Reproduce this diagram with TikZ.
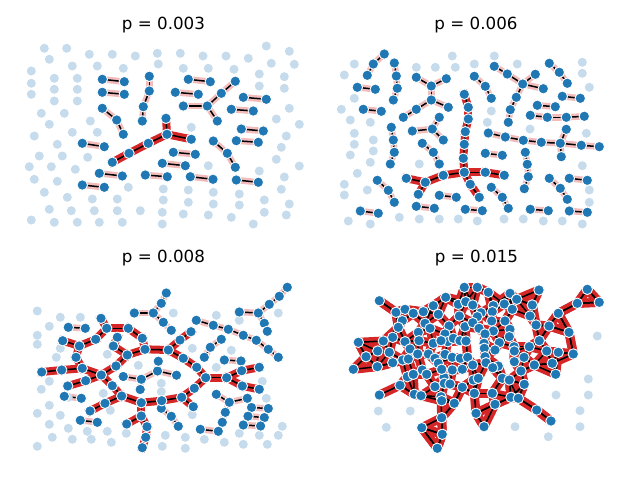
\documentclass[tikz,border=0pt]{standalone}
\usepackage{fontspec}
\setmainfont{DejaVu Sans}
\definecolor{tblue}{RGB}{31,119,180}
\definecolor{lblue}{RGB}{198,219,236}
\definecolor{tred}{RGB}{214,39,40}
\definecolor{tpink}{RGB}{243,188,188}
\pgfdeclarelayer{paper}\pgfdeclarelayer{edgebg}\pgfdeclarelayer{edgefg}\pgfsetlayers{paper,edgebg,edgefg,main}
\tikzset{
  dn/.style={circle,fill=tblue,draw=white,line width=0.9pt,minimum size=10.5pt,inner sep=0pt},
  ln/.style={circle,fill=lblue,minimum size=9pt,inner sep=0pt},
  gE/.style={draw=tred,line width=8pt,line cap=rect},
  gF/.style={draw=tred,line width=9pt,line cap=round},
  sE/.style={draw=tpink,line width=6.5pt,line cap=rect},
  kE/.style={draw=black,line width=1.5pt},
  ttl/.style={font=\fontsize{16.7}{20}\selectfont,anchor=base,inner sep=0pt}
}
\newcommand\drawedges[3]{%
  \begin{pgfonlayer}{edgebg}
  \foreach \pa/\pb in #2 {\draw[#3] (#1\pa.center) -- (#1\pb.center);}
  \end{pgfonlayer}
  \begin{pgfonlayer}{edgefg}
  \foreach \pa/\pb in #2 {\draw[kE] (#1\pa.center) -- (#1\pb.center);}
  \end{pgfonlayer}}
\newcommand\lightnodes[2]{\foreach \px/\py [count=\k] in {#2} {\node[ln] (#1\k) at (\px,\py) {};}}
\newcommand\darknodes[2]{\foreach \nn/\px/\py in {#2} {\node[dn] (#1\nn) at (\px,\py) {};}}
\newcommand\addqedge[2]{\xdef\QE{\QE,#1/#2}}

% ---------- panel 1 ----------
\def\EsA{a1/a2,b1/b2,c1/c2,c2/c3,c3/c4,d1/d2,d2/d3,e1/e2,f1/f2,g1/g2,h1/h2,i1/i2,j1/j2,j1/j3,j3/j4,j1/j5,k1/k2,l1/l2,m1/m2,n1/n2,o1/o2,o2/o3,q1/q2,r1/r2,s1/s2,t1/t2,u1/u2}
\def\EgA{G1/G2,G1/G3,G1/G4,G4/G5,G5/G6}
% ---------- panel 2 ----------
\def\EsB{a1/a2,a2/a3,b1/b2,b2/b3,b3/b4,c1/c2,d1/d2,e1/e2,e2/e3,e2/e4,e4/e5,e4/e6,e6/e7,f1/f2,f2/f3,f3/f4,g1/g2,g1/g3,g1/g4,h1/h2,h2/h3,i1/i2,i2/i3,j1/j2,k1/k2,l1/l2,m1/m2,n1/n2,o1/o2,o2/o3,p1/p2,q1/q2,q2/q3,q3/q4,r1/r2,r2/r3,s1/s2,t1/t2,u1/u2,u2/u3,u3/u4,u4/u5,u5/u8,u8/u9,u5/u6,u5/u7,v1/v2,v2/v3,v3/v4,v3/v5,v3/v6,v6/v7,v7/v8,w1/w2,w2/w3,x1/x2,x2/x3,y1/y2,z1/z2,A1/A2,A2/A3,A3/A4}
\def\EgB{G1/G2,G2/G3,G3/G4,G4/G5,G5/G6,G6/G7,G7/G8,G8/G9,G7/G10,G10/G11,G11/G12,G11/G13,G7/G14,G14/G15}
% ---------- panel 3 ----------
\def\EsC{a1/a2,a2/a3,a3/a4,a3/a5,a5/a6,b1/b2,b2/b3,b3/b4,b4/b5,b4/b6,b6/b7,c1/c2,c2/c3,c3/c4,c4/c5,c5/c6,c6/c7,d1/d2,d2/d3,e1/e2,f1/f2,g1/g2,g2/g3,g3/g4,g3/g5,g2/g6,h1/h2,i1/i2,j1/j2,j2/j3,k1/k2,k2/k3,k2/k4,k4/k5,l1/l2,m1/m2,m3/m4,m5/m6}
\def\EgC{GG/GH,GH/GF,GF/GB,GA/GB,GB/GC,GC/GE,GE/GJ,GD/GI,GI/GK,GK/GJ,GK/GM,GM/GQ,GH/GL,GL/GP,GN/GO,GO/GP,GP/GQ,GQ/GR,GR/GS,GQ/GT,GT/GU,GU/GV,GV/GW,GU/GX,GX/GY,GY/R13,R13/R14,R13/R12,R12/R6,GX/GZ,GZ/GAA,GZ/GAB,GAB/GAC,GAC/GAD,GJ/R1,R1/R2,R2/R3,R1/R4,R4/R5,R5/R6,R6/R7,R7/R8,R8/R9,R7/R10,R10/R11}
% ---------- panel 4 ----------
\def\PQ{1/379.3/300.7,2/396/312.3,3/405/309.3,4/413.3/313.3,5/423.3/311.7,6/433.3/305.7,7/445.7/297.3,8/464.3/287.3,9/458.3/304.3,10/465.7/301.7,11/472.7/305,12/438.3/314.3,13/402.3/320.7,14/398.3/327.3,15/425/323.3,16/430/328.3,17/449/326,18/459.3/316,19/465/326.7,20/418.3/332.3,21/419/340.7,22/392.7/337.3,23/405/341.7,24/445/334,26/447.7/341.7,27/453.3/338.3,28/460/340.7,29/466/341,30/433.3/343.3,31/358.3/342.3,32/383.3/341,33/377.7/351,34/389.3/352.3,35/366/356.7,36/410/349,37/417.7/354,38/428.3/354,40/441/340.7,41/445/354.3,42/452.3/357.3,43/460.3/358.3,44/467.7/357.3,45/435/358.3,46/438.3/363.3,47/353.3/369.3,48/377.3/366.7,49/392.7/362.7,50/402.7/360,51/408.3/359,52/422.3/370,53/426.7/374.3,54/444/377.3,55/441.7/369.3,56/452.3/370,57/462.3/369.3,58/473.3/380,59/407.3/376.7,60/413.3/374.3,61/379.3/395,62/400/385.3,63/414.3/394.3,64/421/395.7,65/435/386.7,66/444.3/383.3,67/450/384,68/462.3/387.3,69/441/396.7,70/441.7/400.7,71/454.3/403.3,72/476/413.3,73/441.7/417.7,74/421.7/427.7,75/442.3/434.3,76/437.3/448.3,77/477.3/287.3,78/488.3/292.3,79/510/293.3,80/539/290,81/587.3/289.3,82/577.3/303.3,83/599.3/302.3,85/493.3/305.7,86/504.3/304,87/516.7/299.3,88/532.3/305,89/558.3/313.3,90/481/312.7,91/492.3/311.7,92/512.3/309.3,93/530/316,94/477.3/316.7,95/472.7/322.7,96/491.7/321,97/505/321,98/536/325,99/549/326,100/569/332.3,101/479/328.3,102/493.3/331,103/510/329.3,105/485/334,106/509.3/336.7,107/539.3/340.7,108/499.3/342.7,109/484/343.3,110/529.3/346.7,111/484.3/348.3,112/495/350,113/514/346.7,114/514.3/351,115/546.7/351,116/558.3/352.3,117/573.3/354,118/485/356.7,119/524/357.3,120/472.7/365,121/486/362.7,122/498.3/366,123/514.3/361.7,124/534.3/365,125/552.3/363.3,126/492.7/367.7,127/521/371,128/555.7/374.3,129/478.3/378.3,130/502.3/378.3,131/509.3/380,132/524.3/384.3,133/474.3/393.3,134/492.3/393.3,135/511/397.3,136/518.3/398.3,137/495/404.3,139/536.7/410,140/551/421,141/484/426.7}

\begin{document}
\begin{tikzpicture}[x=1pt,y=-1pt]
\begin{pgfonlayer}{paper}
\fill[white] (0,0) rectangle (640,480);
\end{pgfonlayer}
\useasboundingbox (0,0) rectangle (640,480);

% titles
\node[ttl] (t1) at (163.5,29.3) {p = 0.003};
\node[ttl] (t2) at (476,29.3) {p = 0.006};
\node[ttl] (t3) at (163.5,262.5) {p = 0.008};
\node[ttl] (t4) at (476.5,262.5) {p = 0.015};

% ===== panel 1 =====
\lightnodes{LA}{44.3/48.3,66.7/48.3,49.3/59.3,89.3/54.3,112.3/54.3,135.3/56,157.3/53.3,180.3/53.3,203/56,226/56,248.3/58.3,266.3/46,289.3/51.3,271.3/63.3,294.3/64.3,72.3/66,97.3/66,123.3/68.3,158.3/64,183.3/68.3,208.3/68.3,234/69.3,259.3/74,284.3/76.7,31.3/71,54.3/78.3,77.3/78.3,31.3/83.3,31.3/94.3,54.3/89.3,77.3/89.3,54.3/101,77.3/101,259.3/86,284.3/88.3,289.3/108.3,41.3/113.3,64.3/113.3,49.3/124.3,90.3/121,72.3/132.3,97.3/132.3,191.3/127.3,276.3/119,299.3/124.3,34.3/136,57.3/144.3,286.3/136,39.3/156,62.3/156,87.7/157.3,281.3/147.3,29.3/166.7,51.3/166.7,75.3/169.3,208.3/165.7,276.3/159.3,299.3/166,34.3/179.3,57.3/181.3,259.3/171,128.3/187.3,284.3/177,44.3/192.3,67.3/197.3,92.3/199,117.3/199,163.3/189,188.3/190,213.3/192.3,239.3/194,281.3/189.3,163.3/200,188.3/202.3,213.3/204,239.3/205,264.3/200,289.3/204,49.3/209.3,71.3/210.7,94.3/210.7,117.3/210.7,140.3/210.7,162.3/212.3,183.3/214,208.3/215,231.3/217.3,264.3/212.3,286.3/215,31.3/220,54.3/222.3,77.3/222.3,99.3/222.3,122.3/222.3,162.3/224,253.3/224}
\darknodes{A}{a1/102.3/79.3,a2/124.3/81.7,b1/102.3/92.3,b2/124.3/94.3,c1/149.3/76.3,c2/149.3/91,c3/143.3/106.7,c4/142.3/121,d1/102.3/108.3,d2/116.7/120,d3/123.3/134.3,e1/82.3/143.3,e2/104.3/146.7,f1/99.3/173.3,f2/122.3/176,g1/82.3/185,g2/104.3/187.3,h1/188.3/79.3,h2/210.3/81.7,i1/175.3/92.3,i2/198.3/94.3,j1/207.3/106,j2/183.3/106,j3/221.3/93.3,j4/235.3/81.3,j5/217.3/121,k1/243.3/97.3,k2/266.3/99.3,l1/231.3/109.3,l2/253.3/111,m1/241.3/129,m2/263.3/131,n1/236.3/140.7,n2/258.3/142.3,o1/213.3/141,o2/227.3/153.3,o3/235.3/167.3,q1/173.3/152.3,q2/195.3/154.3,r1/162.3/163.3,r2/185.3/165.7,s1/145.3/175,s2/167.3/176.7,t1/190.3/176.7,t2/213/179.3,u1/236.3/180,u2/258.3/182.3,G1/167/134.3,G2/166/118.3,G3/191.3/139.3,G4/148.3/143.3,G5/129/153.3,G6/112.3/162.3}
\drawedges{A}{\EsA}{sE}
\drawedges{A}{\EgA}{gE}

% ===== panel 2 =====
\lightnodes{LB}{354.3/64,344.3/75,354.3/98.3,341.3/109.3,350.3/120,370.3/122.3,354.3/133.3,354.3/144.3,350.3/155,373.3/140,373.3/151,370.3/162.3,357.3/173.3,344.3/184.3,344.3/195,367.3/190,348.3/221,370.3/224,399.3/217.3,419.3/219,439.3/219,458.3/219,477.3/221,504/219,523.3/219,543.3/221,562.3/221,582.3/224,589.3/202.3,589.3/190,582.3/165.7,586.3/133.3,530/129,491.3/111,487.3/122.3,419.3/164,452.3/56,494.3/56,455.3/67.3,474.3/64,517.3/64,416.3/67.3,435.3/67.3,582.3/62.3,582.3/73.3,589.3/87.3}
\darknodes{B}{a1/384.3/54,a2/373.3/64,a3/367.3/75.3,b1/394.3/63,b2/396.3/76,b3/397.3/88.3,b4/393.3/100,c1/357.3/87.3,c2/375.3/89.3,d1/363.3/109.3,d2/381.3/111.3,e1/416.3/77.3,e2/431.3/86,e3/446.3/78.7,e4/431.3/100,e5/448.3/107.3,e6/416.3/109.3,e7/403.3/117.3,f1/391.3/127.3,f2/393.3/140,f3/394.3/152.3,f4/390.3/164,g1/432.3/129,g2/439.3/117.3,g3/412.3/131,g4/443.3/140,h1/422.3/143.3,h2/433.3/152.3,h3/439.3/164,i1/377.3/180.3,i2/388.3/190.3,i3/394.3/202.3,j1/360.3/211,j2/378.3/213.3,k1/416.3/206.3,k2/434.3/208.3,l1/439.3/195.3,l2/456.3/197.3,m1/465.3/209.3,m2/482.3/210.7,n1/485.3/153.3,n2/502.3/155.3,o1/491.3/187.3,o2/502.3/197.3,o3/508.3/208.3,p1/530.3/209.3,p2/548.3/210.7,q1/525.3/152.3,q2/527.3/164.3,q3/528.3/176.7,q4/524.3/188.7,r1/549.3/178.3,r2/560.3/188.3,r3/567.3/199.3,s1/569.3/178.3,s2/587.3/180.3,t1/569.3/211,t2/587.3/212.3,u1/488.3/133,u2/505.3/137,u3/523.3/140.3,u4/541.3/142.3,u5/560.3/143.3,u6/566.3/129.3,u7/561.3/156.7,u8/581.3/145.3,u9/599.3/146.7,v1/494.3/66.3,v2/507.3/74,v3/522.7/84,v4/535.3/74.3,v5/543.3/88.7,v6/516.3/97.3,v7/510.3/109.7,v8/508.3/122.3,w1/474.3/76.3,w2/485.3/86.3,w3/491.3/98.3,x1/549.3/63.3,x2/559.3/72.3,x3/567.3/83.3,y1/562.3/96.3,y2/580.3/98.3,z1/537.3/105.3,z2/555.3/106.7,A1/530.3/115.3,A2/547.3/117.3,A3/566.3/117.3,A4/584.3/116.3,G1/464.3/94.3,G2/468.3/107.3,G3/468.3/119,G4/465.3/131.7,G5/464.3/144.3,G6/463.3/158.3,G7/464.3/172.3,G8/485.3/172.3,G9/504.3/175.3,G10/443.3/175.3,G11/425.3/182.3,G12/406.3/178.3,G13/418.3/194.3,G14/470.3/184.3,G15/479.3/197.3}
\drawedges{B}{\EsB}{sE}
\drawedges{B}{\EgB}{gE}

% ===== panel 3 =====
\lightnodes{LC}{37.3/311,60.3/317.3,80.3/317.3,49.3/326.3,37.3/335.3,37.3/344.3,60.3/348.3,56.3/357.3,107.3/354.3,49.3/381.3,41.3/389.3,68.3/397.3,103.3/393.3,138.3/365.3,161.3/383.3,161.3/391.7,173.3/313,192.3/348.3,216.3/315.3,239.3/320.3,278.3/313,231.3/350.3,216.3/367.3,262.3/381.3,266.3/398.3,49.3/405.3,37.3/413.3,60.3/415.3,49.3/424.3,68.3/428.3,52.3/437.3,37.3/446.3,72.3/439.3,87.3/431.3,91.3/439.3,107.3/431.3,111.3/442.3,126.3/433.3,110.3/410.3,192.3/414.7,165.3/435.3,185.3/437.3,185.3/448.3,162.3/446.3,204.3/439.3,224.3/442.3,239.3/433.3,243.3/444.3,259.3/435.3,267.3/444.3,278.3/435.3,282.3/426.3}
\darknodes{C}{a1/166.3/293,a2/161.3/303.3,a3/153.3/313,a4/134.3/313,a5/163.3/322.3,a6/171.3/330.3,b1/287.3/287.3,b2/279.3/296.3,b3/269.3/304.3,b4/258.3/313,b5/239.3/312,b6/264.3/323.3,b7/267.3/331.3,c1/196.3/320.3,c2/213.3/325.3,c3/228.3/329.3,c4/243.3/335.3,c5/256.3/340.3,c6/268.3/349.3,c7/278.3/357.3,d1/221.3/339.3,d2/210.3/347.3,d3/204.3/357.3,e1/68.3/327.3,e2/85.3/328.3,f1/224.3/360,f2/241/361,g1/123.3/376.5,g2/141.3/379.3,g3/157.5/371,g4/158.3/361.2,g5/176.5/375.2,g6/140.2/389.5,h1/64.3/396.3,h2/81.3/398.3,i1/80.3/420.3,i2/97.3/422.3,j1/161.3/408.3,j2/171.3/416.3,j3/178.3/426.3,k1/216.3/394.3,k2/229.3/402.3,k3/247.3/398.3,k4/225.3/412.3,k5/222.3/422.3,l1/200.3/429.3,l2/218.3/431.3,m1/251.5/407.5,m2/268.3/408.5,m3/248/416.2,m4/264.3/417.6,m5/243.3/425,m6/260.6/426}
\darknodes{C}{GA/101/318.3,GB/106.7/328.3,GC/128.3/328.3,GD/117.3/337.3,GE/142.3/338.3,GF/95.7/339.3,GG/62.7/340.7,GH/79.3/346,GI/113.3/346,GJ/145/349.3,GK/127.3/355,GL/76/357.3,GM/116/366,GN/41.7/372,GO/61.7/370,GP/82.3/368.3,GQ/101.3/375,GR/85.7/380.7,GS/67.7/386,GT/112.3/385.7,GU/121.7/396,GV/105/403.3,GW/90/411,GX/141.3/402.7,GY/161.7/400.7,GZ/141.3/416,GAA/126.7/424,GAB/147/426.7,GAC/145.7/437.3,GAD/142.3/447.7,R1/168.3/350,R2/180/340,R3/191/331.7,R4/183.3/358.3,R5/196.7/367.3,R6/205.7/377.7,R7/226.7/377.7,R8/241.7/370.7,R9/259.3/367.3,R10/242.3/386,R11/259.3/389.3,R12/194.3/388.3,R13/181.7/397.3,R14/193.3/406.7}
\drawedges{C}{\EsC}{sE}
\drawedges{C}{\EgC}{gE}

% ===== panel 4 =====
\lightnodes{LD}{378.3/411,410.3/411,386.3/427.3,597.3/336,588.3/379,556/395,588.3/395,580/410.7,515/426.7,580/426.7,548.3/436.7}
\foreach \i/\x/\y in \PQ {\node[dn] (Q\i) at (\x,\y) {};}
\gdef\QE{1/2}
\foreach \i/\x/\y in \PQ {%
  \gdef\dA{9999}\gdef\dB{9999}\gdef\dC{9999}\gdef\dD{9999}%
  \xdef\nA{\i}\xdef\nB{\i}\xdef\nC{\i}\xdef\nD{\i}%
  \foreach \j/\u/\v in \PQ {%
    \ifnum\i=\j\relax\else
      \ifdim\dimexpr\x pt-\u pt\relax<45pt\relax
      \ifdim\dimexpr\u pt-\x pt\relax<45pt\relax
      \ifdim\dimexpr\y pt-\v pt\relax<45pt\relax
      \ifdim\dimexpr\v pt-\y pt\relax<45pt\relax
        \pgfmathsetmacro\dd{veclen(\x-\u,\y-\v)}%
        \ifdim\dd pt<\dA pt\relax
          \global\let\dD\dC\global\let\nD\nC
          \global\let\dC\dB\global\let\nC\nB
          \global\let\dB\dA\global\let\nB\nA
          \global\let\dA\dd\xdef\nA{\j}%
        \else\ifdim\dd pt<\dB pt\relax
          \global\let\dD\dC\global\let\nD\nC
          \global\let\dC\dB\global\let\nC\nB
          \global\let\dB\dd\xdef\nB{\j}%
        \else\ifdim\dd pt<\dC pt\relax
          \global\let\dD\dC\global\let\nD\nC
          \global\let\dC\dd\xdef\nC{\j}%
        \else\ifdim\dd pt<\dD pt\relax
          \global\let\dD\dd\xdef\nD{\j}%
        \fi\fi\fi\fi
      \fi\fi\fi\fi
    \fi
  }%
  \addqedge{\i}{\nA}%
  \ifdim\dB pt<27pt\relax \addqedge{\i}{\nB}\fi
  \ifdim\dC pt<27pt\relax \addqedge{\i}{\nC}\fi
  \ifdim\dD pt<22pt\relax \addqedge{\i}{\nD}\fi
}
\begin{pgfonlayer}{edgebg}
\foreach \pa/\pb in \QE {\draw[gF] (Q\pa.center) -- (Q\pb.center);}
\end{pgfonlayer}
\begin{pgfonlayer}{edgefg}
\foreach \pa/\pb in \QE {\draw[kE] (Q\pa.center) -- (Q\pb.center);}
\end{pgfonlayer}
\end{tikzpicture}
\end{document}
